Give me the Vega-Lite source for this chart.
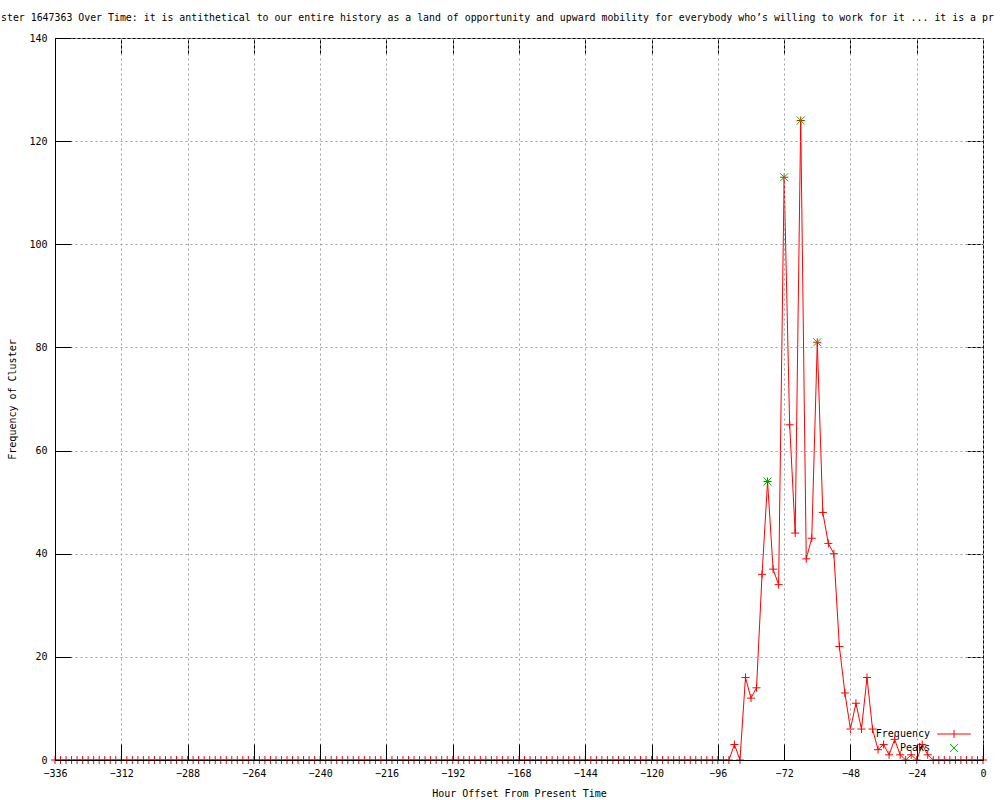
{
  "$schema": "https://vega.github.io/schema/vega-lite/v6.json",
  "autosize": "none",
  "padding": {"left": 55, "top": 38, "right": 17, "bottom": 40},
  "width": 928,
  "height": 722,
  "background": "#ffffff",
  "title": {
    "text": "ster 1647363 Over Time: it is antithetical to our entire history as a land of opportunity and upward mobility for everybody who’s willing to work for it ... it is a pr",
    "anchor": "start",
    "frame": "group",
    "dx": -54,
    "offset": 10,
    "font": "DejaVu Sans Mono",
    "fontSize": 9.9,
    "fontWeight": "normal",
    "color": "#000000"
  },
  "datasets": {
    "freq": [
      {"hour": -336, "freq": 0}, {"hour": -334, "freq": 0}, {"hour": -332, "freq": 0}, {"hour": -330, "freq": 0},
      {"hour": -328, "freq": 0}, {"hour": -326, "freq": 0}, {"hour": -324, "freq": 0}, {"hour": -322, "freq": 0},
      {"hour": -320, "freq": 0}, {"hour": -318, "freq": 0}, {"hour": -316, "freq": 0}, {"hour": -314, "freq": 0},
      {"hour": -312, "freq": 0}, {"hour": -310, "freq": 0}, {"hour": -308, "freq": 0}, {"hour": -306, "freq": 0},
      {"hour": -304, "freq": 0}, {"hour": -302, "freq": 0}, {"hour": -300, "freq": 0}, {"hour": -298, "freq": 0},
      {"hour": -296, "freq": 0}, {"hour": -294, "freq": 0}, {"hour": -292, "freq": 0}, {"hour": -290, "freq": 0},
      {"hour": -288, "freq": 0}, {"hour": -286, "freq": 0}, {"hour": -284, "freq": 0}, {"hour": -282, "freq": 0},
      {"hour": -280, "freq": 0}, {"hour": -278, "freq": 0}, {"hour": -276, "freq": 0}, {"hour": -274, "freq": 0},
      {"hour": -272, "freq": 0}, {"hour": -270, "freq": 0}, {"hour": -268, "freq": 0}, {"hour": -266, "freq": 0},
      {"hour": -264, "freq": 0}, {"hour": -262, "freq": 0}, {"hour": -260, "freq": 0}, {"hour": -258, "freq": 0},
      {"hour": -256, "freq": 0}, {"hour": -254, "freq": 0}, {"hour": -252, "freq": 0}, {"hour": -250, "freq": 0},
      {"hour": -248, "freq": 0}, {"hour": -246, "freq": 0}, {"hour": -244, "freq": 0}, {"hour": -242, "freq": 0},
      {"hour": -240, "freq": 0}, {"hour": -238, "freq": 0}, {"hour": -236, "freq": 0}, {"hour": -234, "freq": 0},
      {"hour": -232, "freq": 0}, {"hour": -230, "freq": 0}, {"hour": -228, "freq": 0}, {"hour": -226, "freq": 0},
      {"hour": -224, "freq": 0}, {"hour": -222, "freq": 0}, {"hour": -220, "freq": 0}, {"hour": -218, "freq": 0},
      {"hour": -216, "freq": 0}, {"hour": -214, "freq": 0}, {"hour": -212, "freq": 0}, {"hour": -210, "freq": 0},
      {"hour": -208, "freq": 0}, {"hour": -206, "freq": 0}, {"hour": -204, "freq": 0}, {"hour": -202, "freq": 0},
      {"hour": -200, "freq": 0}, {"hour": -198, "freq": 0}, {"hour": -196, "freq": 0}, {"hour": -194, "freq": 0},
      {"hour": -192, "freq": 0}, {"hour": -190, "freq": 0}, {"hour": -188, "freq": 0}, {"hour": -186, "freq": 0},
      {"hour": -184, "freq": 0}, {"hour": -182, "freq": 0}, {"hour": -180, "freq": 0}, {"hour": -178, "freq": 0},
      {"hour": -176, "freq": 0}, {"hour": -174, "freq": 0}, {"hour": -172, "freq": 0}, {"hour": -170, "freq": 0},
      {"hour": -168, "freq": 0}, {"hour": -166, "freq": 0}, {"hour": -164, "freq": 0}, {"hour": -162, "freq": 0},
      {"hour": -160, "freq": 0}, {"hour": -158, "freq": 0}, {"hour": -156, "freq": 0}, {"hour": -154, "freq": 0},
      {"hour": -152, "freq": 0}, {"hour": -150, "freq": 0}, {"hour": -148, "freq": 0}, {"hour": -146, "freq": 0},
      {"hour": -144, "freq": 0}, {"hour": -142, "freq": 0}, {"hour": -140, "freq": 0}, {"hour": -138, "freq": 0},
      {"hour": -136, "freq": 0}, {"hour": -134, "freq": 0}, {"hour": -132, "freq": 0}, {"hour": -130, "freq": 0},
      {"hour": -128, "freq": 0}, {"hour": -126, "freq": 0}, {"hour": -124, "freq": 0}, {"hour": -122, "freq": 0},
      {"hour": -120, "freq": 0}, {"hour": -118, "freq": 0}, {"hour": -116, "freq": 0}, {"hour": -114, "freq": 0},
      {"hour": -112, "freq": 0}, {"hour": -110, "freq": 0}, {"hour": -108, "freq": 0}, {"hour": -106, "freq": 0},
      {"hour": -104, "freq": 0}, {"hour": -102, "freq": 0}, {"hour": -100, "freq": 0}, {"hour": -98, "freq": 0},
      {"hour": -96, "freq": 0}, {"hour": -94, "freq": 0}, {"hour": -92, "freq": 0}, {"hour": -90, "freq": 3},
      {"hour": -88, "freq": 0}, {"hour": -86, "freq": 16}, {"hour": -84, "freq": 12}, {"hour": -82, "freq": 14},
      {"hour": -80, "freq": 36}, {"hour": -78, "freq": 54}, {"hour": -76, "freq": 37}, {"hour": -74, "freq": 34},
      {"hour": -72, "freq": 113}, {"hour": -70, "freq": 65}, {"hour": -68, "freq": 44}, {"hour": -66, "freq": 124},
      {"hour": -64, "freq": 39}, {"hour": -62, "freq": 43}, {"hour": -60, "freq": 81}, {"hour": -58, "freq": 48},
      {"hour": -56, "freq": 42}, {"hour": -54, "freq": 40}, {"hour": -52, "freq": 22}, {"hour": -50, "freq": 13},
      {"hour": -48, "freq": 6}, {"hour": -46, "freq": 11}, {"hour": -44, "freq": 6}, {"hour": -42, "freq": 16},
      {"hour": -40, "freq": 6}, {"hour": -38, "freq": 2}, {"hour": -36, "freq": 3}, {"hour": -34, "freq": 1},
      {"hour": -32, "freq": 4}, {"hour": -30, "freq": 1}, {"hour": -28, "freq": 0}, {"hour": -26, "freq": 1},
      {"hour": -24, "freq": 0}, {"hour": -22, "freq": 3}, {"hour": -20, "freq": 1}, {"hour": -18, "freq": 0},
      {"hour": -16, "freq": 0}, {"hour": -14, "freq": 0}, {"hour": -12, "freq": 0}, {"hour": -10, "freq": 0},
      {"hour": -8, "freq": 0}, {"hour": -6, "freq": 0}, {"hour": -4, "freq": 0}, {"hour": -2, "freq": 0},
      {"hour": 0, "freq": 0}
    ],
    "peaks": [
      {"hour": -78, "freq": 54},
      {"hour": -72, "freq": 113},
      {"hour": -66, "freq": 124},
      {"hour": -60, "freq": 81}
    ]
  },
  "resolve": {"axis": {"x": "independent", "y": "independent"}},
  "layer": [
    {
      "data": {"name": "freq"},
      "mark": {"type": "line", "color": "#ff0000", "strokeWidth": 1, "interpolate": "linear"},
      "encoding": {
        "x": {
          "field": "hour", "type": "quantitative",
          "scale": {"domain": [-336, 0], "nice": false, "zero": false},
          "axis": {
            "orient": "bottom", "zindex": 1,
            "values": [-336, -312, -288, -264, -240, -216, -192, -168, -144, -120, -96, -72, -48, -24, 0],
            "title": "Hour Offset From Present Time",
            "grid": true, "domain": true, "ticks": true, "tickSize": -16,
            "labelPadding": 24, "labelBaseline": "top", "titlePadding": 10, "labelFlush": false
          }
        },
        "y": {
          "field": "freq", "type": "quantitative",
          "scale": {"domain": [0, 140], "nice": false},
          "axis": {
            "orient": "left", "zindex": 1,
            "values": [0, 20, 40, 60, 80, 100, 120, 140],
            "title": "Frequency of Cluster",
            "grid": true, "domain": true, "ticks": true, "tickSize": -16,
            "labelPadding": 24, "titlePadding": 11, "labelFlush": false
          }
        }
      }
    },
    {
      "data": {"name": "freq"},
      "mark": {"type": "point", "shape": "M-1,0L1,0M0,-1L0,1", "filled": false, "size": 64, "strokeWidth": 1, "opacity": 1},
      "encoding": {
        "x": {
          "field": "hour", "type": "quantitative",
          "axis": {
            "orient": "top", "labels": false, "grid": false, "domain": true, "ticks": true, "tickSize": -16, "title": null,
            "values": [-336, -312, -288, -264, -240, -216, -192, -168, -144, -120, -96, -72, -48, -24, 0]
          }
        },
        "y": {
          "field": "freq", "type": "quantitative",
          "axis": {
            "orient": "right", "labels": false, "grid": false, "domain": true, "ticks": true, "tickSize": -16, "title": null,
            "values": [0, 20, 40, 60, 80, 100, 120, 140]
          }
        },
        "color": {
          "datum": "Frequency",
          "scale": {"domain": ["Frequency", "Peaks"], "range": ["#ff0000", "#00c000"]},
          "legend": {
            "title": null,
            "orient": "none",
            "legendX": 894,
            "legendY": 691,
            "padding": 0,
            "symbolSize": 64,
            "symbolStrokeWidth": 1,
            "symbolFillColor": "transparent",
            "labelAlign": "right",
            "labelOffset": -29,
            "labelFont": "DejaVu Sans Mono",
            "labelFontSize": 10,
            "labelColor": "#000000",
            "rowPadding": 2
          }
        }
      }
    },
    {
      "data": {"name": "peaks"},
      "mark": {"type": "point", "filled": false, "size": 64, "strokeWidth": 1, "opacity": 1},
      "encoding": {
        "x": {"field": "hour", "type": "quantitative", "axis": null},
        "y": {"field": "freq", "type": "quantitative", "axis": null},
        "color": {"datum": "Peaks"},
        "shape": {
          "datum": "Peaks",
          "scale": {"domain": ["Frequency", "Peaks"], "range": ["M-4.2,0L4.2,0M0,-1L0,1", "M-1,-1L1,1M-1,1L1,-1"]},
          "legend": {"title": null}
        }
      }
    }
  ],
  "config": {
    "view": {"stroke": "#000000", "strokeWidth": 1},
    "font": "DejaVu Sans Mono",
    "axis": {
      "labelFont": "DejaVu Sans Mono",
      "labelFontSize": 10,
      "labelColor": "#000000",
      "titleFont": "DejaVu Sans Mono",
      "titleFontSize": 10,
      "titleFontWeight": "normal",
      "titleColor": "#000000",
      "domainColor": "#000000",
      "domainWidth": 1,
      "tickColor": "#000000",
      "tickWidth": 1,
      "gridColor": "#a0a0a0",
      "gridWidth": 1,
      "gridDash": [2, 3],
      "gridOpacity": 1
    }
  }
}
